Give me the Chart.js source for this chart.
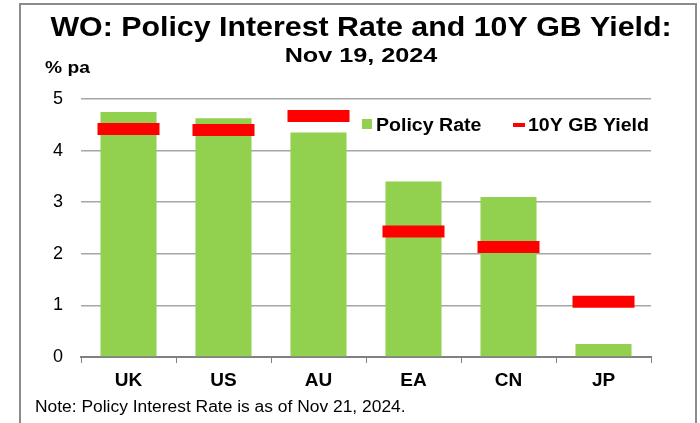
<!DOCTYPE html>
<html>
<head>
<meta charset="utf-8">
<script src="https://cdn.jsdelivr.net/npm/chart.js@4"></script>
<style>
  body { margin: 0; background: #fff; }
  #wrap { position: relative; width: 700px; height: 423px; overflow: hidden; }
  #frame { position: absolute; left: 19px; top: 3px; width: 674px; height: 440px;
           border: 2px solid #8c8c8c; }
  canvas { position: absolute; left: 0; top: 0; }
</style>
</head>
<body>
<div id="wrap">
  <div id="frame"></div>
  <canvas id="chart" width="700" height="423"></canvas>
</div>
<script>
// Policy rate vs 10Y government bond yield
const countries = ["UK", "US", "AU", "EA", "CN", "JP"];
const policyRate = [4.75, 4.625, 4.35, 3.40, 3.10, 0.25];
const bondYield = [4.42, 4.40, 4.67, 2.43, 2.13, 1.07];
const yTicks = [0, 1, 2, 3, 4, 5];

const GREEN = "#92D050";
const RED = "#FF0000";
const FONT = "'Liberation Sans', Arial, sans-serif";

// text in the original is a bit wider than Liberation Sans, so stretch it
function wideText(ctx, text, x, y, font, sx, align) {
    ctx.save();
    ctx.translate(x, y);
    ctx.scale(sx, 1);
    ctx.font = font;
    ctx.textAlign = align;
    ctx.textBaseline = "alphabetic";
    ctx.fillStyle = "#000";
    ctx.fillText(text, 0, 0);
    ctx.restore();
}

// titles, unit label, legend and footnote
const extras = {
    id: "extras",
    afterDraw(chart) {
        const ctx = chart.ctx;
        wideText(ctx, "WO: Policy Interest Rate and 10Y GB Yield:", 361, 36, "bold 28.5px " + FONT, 1.065, "center");
        wideText(ctx, "Nov 19, 2024", 361, 62, "bold 21px " + FONT, 1.2, "center");
        wideText(ctx, "% pa", 45, 73, "bold 16px " + FONT, 1.2, "left");

        // legend
        ctx.save();
        ctx.fillStyle = GREEN;
        ctx.fillRect(362, 119, 10, 10);
        ctx.fillStyle = RED;
        ctx.fillRect(513, 123, 12, 4);
        ctx.restore();
        const ds = chart.data.datasets;
        wideText(ctx, ds[0].label, 376, 131, "bold 17.5px " + FONT, 1.117, "left");
        wideText(ctx, ds[1].label, 528, 131, "bold 17.5px " + FONT, 1.117, "left");

        wideText(ctx, "Note: Policy Interest Rate is as of Nov 21, 2024.", 35, 412, "16px " + FONT, 1.088, "left");
    }
};

new Chart(document.getElementById("chart"), {
    type: "bar",
    data: {
        labels: countries,
        datasets: [
            {
                label: "Policy Rate",
                data: policyRate,
                backgroundColor: GREEN,
                barPercentage: 0.59,
                categoryPercentage: 1,
                order: 2
            },
            {
                type: "line",
                label: "10Y GB Yield",
                data: bondYield,
                showLine: false,
                pointStyle: "line",
                pointRadius: 31,
                pointHoverRadius: 31,
                pointBorderWidth: 12,
                pointHoverBorderWidth: 12,
                borderColor: RED,
                backgroundColor: RED,
                order: 1
            }
        ]
    },
    options: {
        responsive: false,
        animation: false,
        events: [],
        layout: { padding: { left: 0, top: 99, right: 49, bottom: 0 } },
        plugins: {
            legend: { display: false },
            tooltip: { enabled: false }
        },
        scales: {
            x: {
                offset: true,
                grid: { offset: true, drawOnChartArea: false, drawTicks: true, tickLength: 6, color: "#808080" },
                border: { color: "#808080", width: 2 },
                ticks: { color: "#000", font: { family: FONT, size: 19, weight: "bold" }, padding: 6 },
                afterFit(scale) { scale.height = 66; }
            },
            y: {
                min: 0,
                max: 5,
                afterBuildTicks(scale) { scale.ticks = yTicks.map(v => ({ value: v })); },
                grid: { color: "#a6a6a6", lineWidth: 1.5, drawTicks: false },
                border: { display: false },
                ticks: { color: "#000", font: { family: FONT, size: 18 }, padding: 18 },
                afterFit(scale) { scale.width = 81; }
            }
        }
    },
    plugins: [extras]
});
</script>
</body>
</html>
